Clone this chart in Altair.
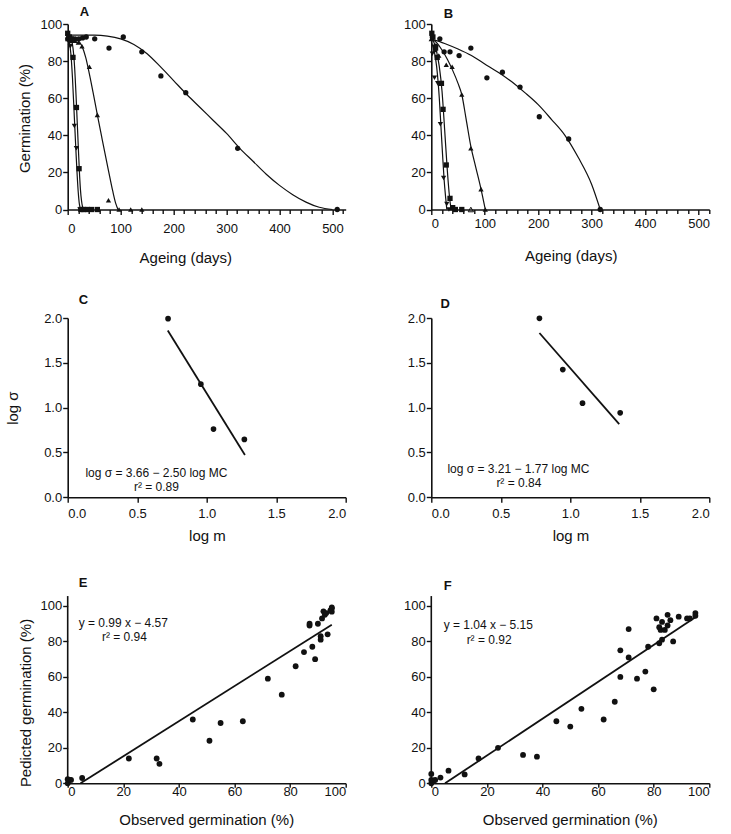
import altair as alt
import pandas as pd

FONT = "Liberation Sans"
INK = "#111111"

# ---------------- Panel A: germination during ageing, four conditions ----------------
A_CIRCLE_DAYS = [0, 7, 14, 21, 28, 35, 51, 78, 105, 140, 176, 223, 321, 509]
A_CIRCLE_GERM = [92, 91, 92, 92, 92.5, 93, 92, 87, 93, 85, 72, 63, 33, 0]
A_UP_DAYS = [0, 7, 14, 20, 27, 41, 56, 77, 97, 119, 140]
A_UP_GERM = [92, 93, 91, 90, 88, 77, 51, 5, 0, 0, 0]
A_SQUARE_DAYS = [0, 3, 7, 10, 16.5, 21.5, 25, 30, 37, 45, 56]
A_SQUARE_GERM = [95, 93, 92, 82, 55, 22, 0, 0, 0, 0, 0]
A_DOWN_DAYS = [0, 3, 5, 12.6, 16.4, 23]
A_DOWN_GERM = [93, 90, 88, 45, 33, 0]

# fitted survival curves, sampled along each line
A_CIRCLE_FIT_DAYS = [0, 25, 50, 75, 100, 125, 150, 175, 200, 225, 250, 275, 300, 325, 350, 375, 400, 425, 450, 475, 500]
A_CIRCLE_FIT_GERM = [94, 94, 94, 93.5, 92, 89, 84, 77, 69.5, 62, 55, 48, 41, 33, 26, 19, 13, 8, 4, 1.2, 0]
A_UP_FIT_DAYS = [0, 10, 20, 27, 34, 41, 48, 56, 65, 77, 85, 91, 95]
A_UP_FIT_GERM = [93, 92.5, 91, 88, 82, 73, 63, 51, 38, 21, 10, 3, 0]
A_SQUARE_FIT_DAYS = [0, 5, 10, 13, 16, 18, 20, 22, 24, 26, 28, 30]
A_SQUARE_FIT_GERM = [94, 93, 87, 77, 60, 47, 34, 21, 11, 5, 1.5, 0]
A_DOWN_FIT_DAYS = [0, 3, 6, 9, 12, 14, 16, 18, 20, 22, 24]
A_DOWN_FIT_GERM = [92, 90, 84, 71, 53, 41, 29, 18, 9, 3, 0.5]

# ---------------- Panel B ----------------
B_CIRCLE_DAYS = [2, 8, 16, 24, 35, 52, 74, 104, 133, 166, 202, 257, 316]
B_CIRCLE_GERM = [93, 88, 92, 85, 85, 83, 87, 71, 74, 66, 50, 38, 0]
B_UP_DAYS = [0, 7, 14, 28, 39, 57, 74, 93, 101]
B_UP_GERM = [92, 86, 83, 78, 77, 62, 33, 11, 0]
B_UP_OPEN_DAYS = [74]
B_UP_OPEN_GERM = [0]
B_SQUARE_DAYS = [1, 3, 8, 11, 19, 22, 28, 35, 40, 45, 57]
B_SQUARE_GERM = [95, 93, 87, 82, 68, 54, 24, 6, 1, 0, 0]
B_DOWN_DAYS = [2, 6, 12, 17, 23, 29, 33]
B_DOWN_GERM = [84, 71, 68, 46, 17, 3, 0]

B_CIRCLE_FIT_DAYS = [0, 25, 50, 75, 100, 125, 150, 175, 200, 225, 250, 275, 300, 316]
B_CIRCLE_FIT_GERM = [92, 89.5, 86.5, 83, 78.5, 74, 69, 63, 56.5, 48.5, 40, 28, 13.5, 0]
B_UP_FIT_DAYS = [0, 10, 20, 30, 40, 50, 57, 65, 74, 83, 93, 101]
B_UP_FIT_GERM = [92, 90, 86, 81, 75, 68, 62, 49, 34, 23, 11, 0]
B_SQUARE_FIT_DAYS = [0, 5, 10, 15, 20, 25, 30, 34, 37]
B_SQUARE_FIT_GERM = [92, 90, 85, 77, 64, 43, 21, 7, 0]
B_DOWN_FIT_DAYS = [0, 5, 10, 15, 18, 21, 24, 27, 29]
B_DOWN_FIT_GERM = [90, 86, 77, 60, 45, 30, 16, 6, 0]

# ---------------- Panels C and D: log sigma against log m ----------------
C_LOG_M = [0.722, 0.958, 1.049, 1.271]
C_LOG_SIGMA = [1.993, 1.262, 0.761, 0.646]
C_INTERCEPT, C_SLOPE = 3.66, -2.50
C_FIT_RANGE = [0.72, 1.275]

D_LOG_M = [0.778, 0.946, 1.088, 1.359]
D_LOG_SIGMA = [1.996, 1.425, 1.050, 0.942]
D_INTERCEPT, D_SLOPE = 3.21, -1.77
D_FIT_RANGE = [0.778, 1.352]

# ---------------- Panels E and F: predicted vs observed germination ----------------
E_OBSERVED = [0, 0, 0.7, 1.2, 5.2, 22, 32, 33, 45, 51, 55, 63, 72, 77, 82, 85, 87, 87,
              88, 89, 90, 91, 91, 91.5, 92, 92.5, 93, 93.5, 94.5, 95, 95, 95]
E_PREDICTED = [0, 2.3, 1.9, 1.9, 3, 14, 14, 11, 36, 24, 34, 35, 59, 50, 66, 74, 89, 90,
               77, 70, 90, 83, 81, 93, 97, 95, 96, 84, 97.5, 98.7, 96.8, 99.2]
E_INTERCEPT, E_SLOPE = -4.57, 0.99

F_OBSERVED = [0, 0, 0, 0.8, 1.4, 3.3, 6.2, 12, 17, 24, 33, 38, 45, 50, 54, 62, 66, 68, 68,
              71, 71, 74, 77, 78, 80, 81, 82, 82, 82.5, 83, 83, 84, 85, 85, 86, 87, 89, 92,
              93, 95, 95]
F_PREDICTED = [0, 5.3, 1.9, 1.5, 1.9, 3.2, 7.1, 5, 14, 20, 16, 15, 35, 32, 42, 36, 46, 75, 60,
               87, 71, 59, 63, 77, 53, 93, 79, 88, 86.5, 81, 91, 86.5, 95, 89, 92, 80, 94, 93,
               93, 96, 94.5]
F_INTERCEPT, F_SLOPE = -5.15, 1.04

PANEL_W = 278
AGE_TICKS = list(range(0, 521, 20))


def frame(xs, ys, xname, yname, series=None):
    df = pd.DataFrame({xname: xs, yname: ys})
    if series is not None:
        df["series"] = series
    return df


def panel_letter(tag, dx, dy):
    """Bold panel tag sitting just above the top-left corner of the plot area."""
    return (alt.Chart(pd.DataFrame({"tag": [tag]}))
            .mark_text(font=FONT, fontSize=13, fontWeight="bold", color=INK,
                       align="left", baseline="alphabetic")
            .encode(text="tag:N", x=alt.value(dx), y=alt.value(-dy)))


def ageing_panel(points, fits, open_pts, tag, tag_pos, x_max, x_title_x, x_title_y, x_label_pad, y_title):
    x = alt.X("days:Q", scale=alt.Scale(domain=[0, x_max], nice=False),
              axis=alt.Axis(values=AGE_TICKS,
                            labelExpr="datum.value % 100 === 0 ? datum.label : ''",
                            tickSize={"condition": {"test": "datum.value % 100 === 0", "value": 5}, "value": 4},
                            labelPadding=x_label_pad, title="Ageing (days)",
                            titleX=x_title_x, titleY=x_title_y, titleBaseline="middle"))
    y_axis = dict(values=[0, 20, 40, 60, 80, 100], tickSize=5, labelPadding=1)
    if y_title:
        y_axis.update(title="Germination (%)", titleX=-42.7, titleY=94, titleAngle=270,
                      titleAlign="center", titleBaseline="middle")
    else:
        y_axis.update(title=None)
    y = alt.Y("germ:Q", scale=alt.Scale(domain=[0, 100], nice=False), axis=alt.Axis(**y_axis))

    fit_df = pd.concat([frame(d, g, "days", "germ", name) for name, (d, g) in fits.items()])
    layers = [alt.Chart(fit_df).mark_line(color=INK, strokeWidth=1.2, interpolate="monotone")
              .encode(x=x, y=y, detail="series:N")]
    for shape, (d, g) in points.items():
        layers.append(alt.Chart(frame(d, g, "days", "germ"))
                      .mark_point(shape=shape, filled=True, color=INK, size=28, opacity=1)
                      .encode(x=x, y=y))
    for shape, (d, g) in open_pts.items():
        layers.append(alt.Chart(frame(d, g, "days", "germ"))
                      .mark_point(shape=shape, filled=False, color=INK, size=28, strokeWidth=1, opacity=1)
                      .encode(x=x, y=y))
    layers.append(panel_letter(tag, *tag_pos))
    return alt.layer(*layers).properties(width=PANEL_W, height=185.5)


def sigma_panel(log_m, log_sigma, intercept, slope, fit_range, eq_text, r2_text, eq_pos, r2_pos,
                tag, tag_pos, y_title):
    x = alt.X("logm:Q", scale=alt.Scale(domain=[0, 2], nice=False),
              axis=alt.Axis(values=[0, 0.5, 1, 1.5, 2], format=".1f", tickSize=5, labelPadding=5,
                            title="log m", titleX=139.2, titleY=38, titleBaseline="middle"))
    y_axis = dict(values=[0, 0.5, 1, 1.5, 2], format=".1f", tickSize=5, labelPadding=1)
    if y_title:
        y_axis.update(title="log σ", titleX=-55, titleY=89.6, titleAngle=270,
                      titleAlign="center", titleBaseline="middle")
    else:
        y_axis.update(title=None)
    y = alt.Y("logs:Q", scale=alt.Scale(domain=[0, 2], nice=False), axis=alt.Axis(**y_axis))

    fit_y = [intercept + slope * v for v in fit_range]
    notes = pd.DataFrame({"logm": [eq_pos[0], r2_pos[0]], "logs": [eq_pos[1], r2_pos[1]],
                          "label": [eq_text, r2_text]})
    layers = [
        alt.Chart(frame(fit_range, fit_y, "logm", "logs")).mark_line(color=INK, strokeWidth=1.8)
        .encode(x=x, y=y),
        alt.Chart(frame(log_m, log_sigma, "logm", "logs"))
        .mark_point(shape="circle", filled=True, color=INK, size=32, opacity=1).encode(x=x, y=y),
        alt.Chart(notes).mark_text(font=FONT, fontSize=12, color=INK, align="center", baseline="middle")
        .encode(x=x, y=y, text="label:N"),
        panel_letter(tag, *tag_pos),
    ]
    return alt.layer(*layers).properties(width=PANEL_W, height=179.3)


def fit_panel(observed, predicted, intercept, slope, eq_text, r2_text, eq_pos, r2_pos,
              tag, tag_pos, y_title):
    x = alt.X("obs:Q", scale=alt.Scale(domain=[0, 100], nice=False),
              axis=alt.Axis(values=[0, 20, 40, 60, 80, 100], tickSize=4, labelPadding=-2,
                            title="Observed germination (%)", titleX=138.5, titleY=36.7,
                            titleBaseline="middle"))
    y_axis = dict(values=[0, 20, 40, 60, 80, 100], tickSize=5, labelPadding=1, domain=False)
    if y_title:
        y_axis.update(title="Pedicted germination (%)", titleX=-42.4, titleY=96.5, titleAngle=270,
                      titleAlign="center", titleBaseline="middle")
    else:
        y_axis.update(title=None)
    y = alt.Y("pred:Q", scale=alt.Scale(domain=[0, 100], nice=False), axis=alt.Axis(**y_axis))

    x_start = -intercept / slope
    fit_x = [x_start, 95]
    fit_y = [intercept + slope * v for v in fit_x]
    notes = pd.DataFrame({"obs": [eq_pos[0], r2_pos[0]], "pred": [eq_pos[1], r2_pos[1]],
                          "label": [eq_text, r2_text]})
    axis_line = pd.DataFrame({"obs": [0], "pred": [0], "top": [105.6]})
    layers = [
        alt.Chart(axis_line).mark_rule(color=INK, strokeWidth=1.6)
        .encode(x=x, y=y, y2=alt.Y2("top:Q")),
        alt.Chart(frame(fit_x, fit_y, "obs", "pred")).mark_line(color=INK, strokeWidth=1.8)
        .encode(x=x, y=y),
        alt.Chart(frame(observed, predicted, "obs", "pred"))
        .mark_point(shape="circle", filled=True, color=INK, size=34, opacity=1).encode(x=x, y=y),
        alt.Chart(notes).mark_text(font=FONT, fontSize=12, color=INK, align="center", baseline="middle")
        .encode(x=x, y=y, text="label:N"),
        panel_letter(tag, *tag_pos),
    ]
    return alt.layer(*layers).properties(width=PANEL_W, height=177.3)


panel_a = ageing_panel(
    {"circle": (A_CIRCLE_DAYS, A_CIRCLE_GERM), "triangle-up": (A_UP_DAYS, A_UP_GERM),
     "square": (A_SQUARE_DAYS, A_SQUARE_GERM), "triangle-down": (A_DOWN_DAYS, A_DOWN_GERM)},
    {"circle": (A_CIRCLE_FIT_DAYS, A_CIRCLE_FIT_GERM), "up": (A_UP_FIT_DAYS, A_UP_FIT_GERM),
     "square": (A_SQUARE_FIT_DAYS, A_SQUARE_FIT_GERM), "down": (A_DOWN_FIT_DAYS, A_DOWN_FIT_GERM)},
    {}, "A", (12, 7.6), 525, 117.6, 48, 8, True)

panel_b = ageing_panel(
    {"circle": (B_CIRCLE_DAYS, B_CIRCLE_GERM), "triangle-up": (B_UP_DAYS, B_UP_GERM),
     "square": (B_SQUARE_DAYS, B_SQUARE_GERM), "triangle-down": (B_DOWN_DAYS, B_DOWN_GERM)},
    {"circle": (B_CIRCLE_FIT_DAYS, B_CIRCLE_FIT_GERM), "up": (B_UP_FIT_DAYS, B_UP_FIT_GERM),
     "square": (B_SQUARE_FIT_DAYS, B_SQUARE_FIT_GERM), "down": (B_DOWN_FIT_DAYS, B_DOWN_FIT_GERM)},
    {"triangle-up": (B_UP_OPEN_DAYS, B_UP_OPEN_GERM)}, "B", (12.4, 5.7), 520, 139.4, 45.7, 2.5, False)

panel_c = sigma_panel(C_LOG_M, C_LOG_SIGMA, C_INTERCEPT, C_SLOPE, C_FIT_RANGE,
                      "log σ = 3.66 − 2.50 log MC", "r² = 0.89", (0.638, 0.27), (0.638, 0.115),
                      "C", (11, 14.4), True)
panel_d = sigma_panel(D_LOG_M, D_LOG_SIGMA, D_INTERCEPT, D_SLOPE, D_FIT_RANGE,
                      "log σ = 3.21 − 1.77 log MC", "r² = 0.84", (0.627, 0.32), (0.63, 0.164),
                      "D", (9.3, 10.4), False)
panel_e = fit_panel(E_OBSERVED, E_PREDICTED, E_INTERCEPT, E_SLOPE,
                    "y = 0.99 x − 4.57", "r² = 0.94", (20, 90.6), (20.4, 82.4), "E", (11, 18.7), True)
panel_f = fit_panel(F_OBSERVED, F_PREDICTED, F_INTERCEPT, F_SLOPE,
                    "y = 1.04 x − 5.15", "r² = 0.92", (20.5, 89.3), (20.8, 80.8), "F", (12.4, 16), False)

chart = (
    alt.concat(panel_a, panel_b, panel_c, panel_d, panel_e, panel_f, columns=2,
               spacing={"row": 108, "column": 85.6}, bounds="flush",
               padding={"left": 5.7, "top": 6, "right": 5, "bottom": 5},
               background="white")
    .configure_view(stroke=None)
    .configure_axis(domainColor=INK, domainWidth=1.6, tickColor=INK, tickWidth=1.4,
                    labelFont=FONT, labelFontSize=13, labelColor=INK,
                    titleFont=FONT, titleFontSize=15, titleFontWeight="normal", titleColor=INK,
                    grid=False)
)

chart.save("out.html", embed_options={"renderer": "svg", "actions": False})
